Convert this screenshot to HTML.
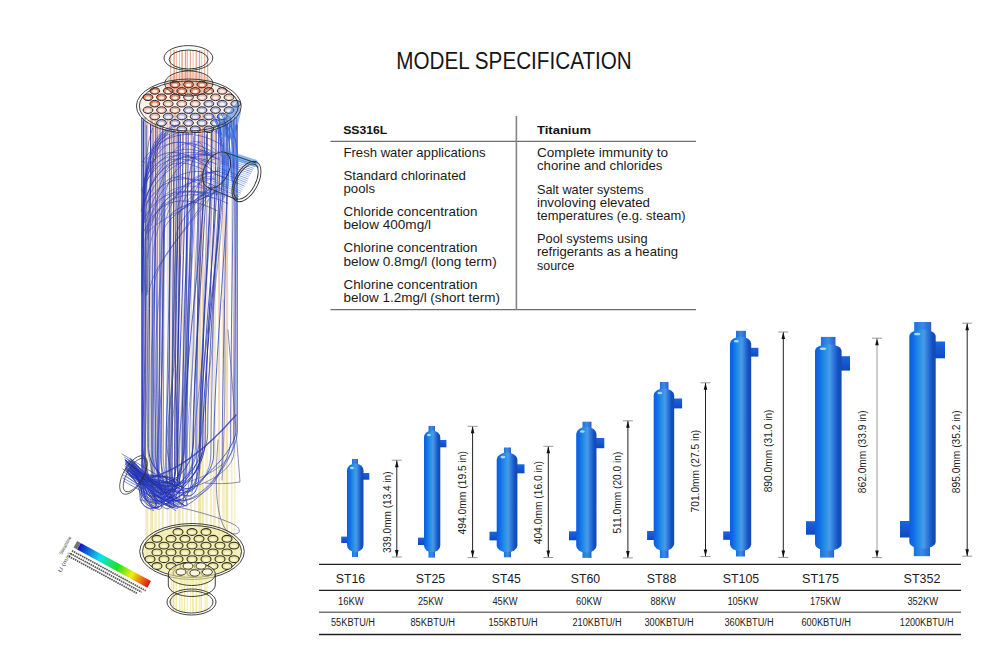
<!DOCTYPE html><html><head><meta charset="utf-8"><style>html,body{margin:0;padding:0;background:#fff;width:1000px;height:667px;overflow:hidden}svg{display:block}text{font-family:"Liberation Sans",sans-serif}</style></head><body>
<svg width="1000" height="667" viewBox="0 0 1000 667">
<defs>
<linearGradient id="gb" x1="0" x2="1" y1="0" y2="0">
<stop offset="0" stop-color="#0b5ee0"/><stop offset="0.12" stop-color="#0d68e6"/><stop offset="0.38" stop-color="#2590e6"/><stop offset="0.55" stop-color="#4a9ae8"/><stop offset="0.72" stop-color="#2b72d8"/><stop offset="0.88" stop-color="#1050c0"/><stop offset="1" stop-color="#1a48b0"/></linearGradient>
<linearGradient id="gn" x1="0" x2="1" y1="0" y2="0">
<stop offset="0" stop-color="#1a72e0"/><stop offset="0.5" stop-color="#3a8ae6"/><stop offset="1" stop-color="#2a62c8"/></linearGradient>
<linearGradient id="gs" x1="0" x2="0" y1="0" y2="1">
<stop offset="0" stop-color="#1a66dc"/><stop offset="1" stop-color="#1048c0"/></linearGradient>
<linearGradient id="leg" x1="0" x2="1" y1="0" y2="0">
<stop offset="0" stop-color="#1010c0"/><stop offset="0.3" stop-color="#10e0f0"/><stop offset="0.55" stop-color="#20e020"/><stop offset="0.75" stop-color="#f0f010"/><stop offset="1" stop-color="#e01010"/></linearGradient>
</defs>
<rect width="1000" height="667" fill="#fff"/>
<text x="396.3" y="69" font-size="23.6" font-weight="400" fill="#151515" text-anchor="start" textLength="235.5" lengthAdjust="spacingAndGlyphs" >MODEL SPECIFICATION</text>
<g stroke="#6e6e6e" stroke-width="1.2">
<line x1="330.5" y1="141.3" x2="696" y2="141.3"/>
<line x1="330.5" y1="309.6" x2="696" y2="309.6"/>
<line x1="516.4" y1="116" x2="516.4" y2="309.6" stroke="#858585" stroke-width="1.6"/>
</g>
<text x="343.2" y="133.6" font-size="11.5" font-weight="700" fill="#111" text-anchor="start" textLength="44" lengthAdjust="spacingAndGlyphs" >SS316L</text>
<text x="537" y="133.6" font-size="11.5" font-weight="700" fill="#111" text-anchor="start" textLength="54" lengthAdjust="spacingAndGlyphs" >Titanium</text>
<text x="343.5" y="157" font-size="13" font-weight="400" fill="#1a1a1a" text-anchor="start" textLength="142" lengthAdjust="spacingAndGlyphs" >Fresh water applications</text>
<text x="343.5" y="179.5" font-size="13" font-weight="400" fill="#1a1a1a" text-anchor="start" textLength="122.4" lengthAdjust="spacingAndGlyphs" >Standard chlorinated</text>
<text x="343.5" y="192.7" font-size="13" font-weight="400" fill="#1a1a1a" text-anchor="start" textLength="31.5" lengthAdjust="spacingAndGlyphs" >pools</text>
<text x="343.5" y="216" font-size="13" font-weight="400" fill="#1a1a1a" text-anchor="start" textLength="134" lengthAdjust="spacingAndGlyphs" >Chloride concentration</text>
<text x="343.5" y="229" font-size="13" font-weight="400" fill="#1a1a1a" text-anchor="start" textLength="87.5" lengthAdjust="spacingAndGlyphs" >below 400mg/l</text>
<text x="343.5" y="252" font-size="13" font-weight="400" fill="#1a1a1a" text-anchor="start" textLength="134" lengthAdjust="spacingAndGlyphs" >Chlorine concentration</text>
<text x="343.5" y="265.5" font-size="13" font-weight="400" fill="#1a1a1a" text-anchor="start" textLength="153.2" lengthAdjust="spacingAndGlyphs" >below 0.8mg/l (long term)</text>
<text x="343.5" y="288.5" font-size="13" font-weight="400" fill="#1a1a1a" text-anchor="start" textLength="134" lengthAdjust="spacingAndGlyphs" >Chlorine concentration</text>
<text x="343.5" y="301.5" font-size="13" font-weight="400" fill="#1a1a1a" text-anchor="start" textLength="156.5" lengthAdjust="spacingAndGlyphs" >below 1.2mg/l (short term)</text>
<text x="537" y="157" font-size="13" font-weight="400" fill="#1a1a1a" text-anchor="start" textLength="131" lengthAdjust="spacingAndGlyphs" >Complete immunity to</text>
<text x="537" y="170.3" font-size="13" font-weight="400" fill="#1a1a1a" text-anchor="start" textLength="125.4" lengthAdjust="spacingAndGlyphs" >chorine and chlorides</text>
<text x="537" y="193.5" font-size="13" font-weight="400" fill="#1a1a1a" text-anchor="start" textLength="106.6" lengthAdjust="spacingAndGlyphs" >Salt water systems</text>
<text x="537" y="206.5" font-size="13" font-weight="400" fill="#1a1a1a" text-anchor="start" textLength="113" lengthAdjust="spacingAndGlyphs" >involoving elevated</text>
<text x="537" y="220" font-size="13" font-weight="400" fill="#1a1a1a" text-anchor="start" textLength="148.6" lengthAdjust="spacingAndGlyphs" >temperatures (e.g. steam)</text>
<text x="537" y="243" font-size="13" font-weight="400" fill="#1a1a1a" text-anchor="start" textLength="110.6" lengthAdjust="spacingAndGlyphs" >Pool systems using</text>
<text x="537" y="256.3" font-size="13" font-weight="400" fill="#1a1a1a" text-anchor="start" textLength="141" lengthAdjust="spacingAndGlyphs" >refrigerants as a heating</text>
<text x="537" y="269.5" font-size="13" font-weight="400" fill="#1a1a1a" text-anchor="start" textLength="37.4" lengthAdjust="spacingAndGlyphs" >source</text>
<g stroke="#222" stroke-width="1.3">
<line x1="319" y1="564.3" x2="961" y2="564.3"/>
<line x1="319" y1="590.3" x2="961" y2="590.3"/>
<line x1="319" y1="634.5" x2="961" y2="634.5"/>
</g>
<line x1="319" y1="612.3" x2="961" y2="612.3" stroke="#777" stroke-width="1.6"/>
<text x="335.8" y="582.5" font-size="13.5" font-weight="400" fill="#1a1a1a" text-anchor="start" textLength="29.400000000000002" lengthAdjust="spacingAndGlyphs" >ST16</text>
<text x="338.0" y="605" font-size="10" font-weight="400" fill="#222" text-anchor="start" textLength="25.599999999999998" lengthAdjust="spacingAndGlyphs" >16KW</text>
<text x="331.0" y="626" font-size="10" font-weight="400" fill="#222" text-anchor="start" textLength="44.0" lengthAdjust="spacingAndGlyphs" >55KBTU/H</text>
<text x="415.8" y="582.5" font-size="13.5" font-weight="400" fill="#1a1a1a" text-anchor="start" textLength="29.400000000000002" lengthAdjust="spacingAndGlyphs" >ST25</text>
<text x="418.0" y="605" font-size="10" font-weight="400" fill="#222" text-anchor="start" textLength="25.0" lengthAdjust="spacingAndGlyphs" >25KW</text>
<text x="410.4" y="626" font-size="10" font-weight="400" fill="#222" text-anchor="start" textLength="44.6" lengthAdjust="spacingAndGlyphs" >85KBTU/H</text>
<text x="491.8" y="582.5" font-size="13.5" font-weight="400" fill="#1a1a1a" text-anchor="start" textLength="29.0" lengthAdjust="spacingAndGlyphs" >ST45</text>
<text x="492.4" y="605" font-size="10" font-weight="400" fill="#222" text-anchor="start" textLength="25.2" lengthAdjust="spacingAndGlyphs" >45KW</text>
<text x="488.4" y="626" font-size="10" font-weight="400" fill="#222" text-anchor="start" textLength="49.2" lengthAdjust="spacingAndGlyphs" >155KBTU/H</text>
<text x="570.8000000000001" y="582.5" font-size="13.5" font-weight="400" fill="#1a1a1a" text-anchor="start" textLength="29.400000000000002" lengthAdjust="spacingAndGlyphs" >ST60</text>
<text x="576.0" y="605" font-size="10" font-weight="400" fill="#222" text-anchor="start" textLength="25.599999999999998" lengthAdjust="spacingAndGlyphs" >60KW</text>
<text x="572.4" y="626" font-size="10" font-weight="400" fill="#222" text-anchor="start" textLength="49.2" lengthAdjust="spacingAndGlyphs" >210KBTU/H</text>
<text x="646.8000000000001" y="582.5" font-size="13.5" font-weight="400" fill="#1a1a1a" text-anchor="start" textLength="29.6" lengthAdjust="spacingAndGlyphs" >ST88</text>
<text x="650.4" y="605" font-size="10" font-weight="400" fill="#222" text-anchor="start" textLength="25.2" lengthAdjust="spacingAndGlyphs" >88KW</text>
<text x="644.4" y="626" font-size="10" font-weight="400" fill="#222" text-anchor="start" textLength="49.2" lengthAdjust="spacingAndGlyphs" >300KBTU/H</text>
<text x="722.8000000000001" y="582.5" font-size="13.5" font-weight="400" fill="#1a1a1a" text-anchor="start" textLength="36.4" lengthAdjust="spacingAndGlyphs" >ST105</text>
<text x="727.4" y="605" font-size="10" font-weight="400" fill="#222" text-anchor="start" textLength="30.8" lengthAdjust="spacingAndGlyphs" >105KW</text>
<text x="724.4" y="626" font-size="10" font-weight="400" fill="#222" text-anchor="start" textLength="49.2" lengthAdjust="spacingAndGlyphs" >360KBTU/H</text>
<text x="802.0" y="582.5" font-size="13.5" font-weight="400" fill="#1a1a1a" text-anchor="start" textLength="37.1" lengthAdjust="spacingAndGlyphs" >ST175</text>
<text x="809.9" y="605" font-size="10" font-weight="400" fill="#222" text-anchor="start" textLength="30.599999999999998" lengthAdjust="spacingAndGlyphs" >175KW</text>
<text x="801.4" y="626" font-size="10" font-weight="400" fill="#222" text-anchor="start" textLength="49.6" lengthAdjust="spacingAndGlyphs" >600KBTU/H</text>
<text x="903.6" y="582.5" font-size="13.5" font-weight="400" fill="#1a1a1a" text-anchor="start" textLength="36.800000000000004" lengthAdjust="spacingAndGlyphs" >ST352</text>
<text x="907.4" y="605" font-size="10" font-weight="400" fill="#222" text-anchor="start" textLength="30.8" lengthAdjust="spacingAndGlyphs" >352KW</text>
<text x="899.8" y="626" font-size="10" font-weight="400" fill="#222" text-anchor="start" textLength="53.800000000000004" lengthAdjust="spacingAndGlyphs" >1200KBTU/H</text>
<rect x="352" y="459" width="6" height="8.5" fill="url(#gn)"/>
<rect x="352" y="548" width="6" height="9" fill="url(#gn)"/>
<rect x="361.5" y="473" width="7.800000000000011" height="6.699999999999989" fill="url(#gs)"/>
<rect x="341.2" y="536.6" width="7.800000000000011" height="6.399999999999977" fill="url(#gs)"/>
<rect x="347" y="463.5" width="16.5" height="88.5" rx="8.25" ry="7" fill="url(#gb)"/>
<ellipse cx="351.95" cy="468.0" rx="1.98" ry="1.3" fill="#a8dcff"/>
<rect x="428.5" y="426" width="6.5" height="8.5" fill="url(#gn)"/>
<rect x="428.5" y="548.3" width="6.5" height="9.300000000000068" fill="url(#gn)"/>
<rect x="438.3" y="440" width="8.099999999999966" height="7.300000000000011" fill="url(#gs)"/>
<rect x="418" y="537.6" width="8" height="7.399999999999977" fill="url(#gs)"/>
<rect x="424" y="430.5" width="16.30000000000001" height="121.79999999999995" rx="8.150000000000006" ry="7" fill="url(#gb)"/>
<ellipse cx="428.89" cy="435.0" rx="1.9560000000000013" ry="1.3" fill="#a8dcff"/>
<rect x="503.9" y="447.5" width="7.100000000000023" height="9.100000000000023" fill="url(#gn)"/>
<rect x="503.9" y="548.4" width="7.100000000000023" height="8.899999999999977" fill="url(#gn)"/>
<rect x="515.4" y="464.3" width="9.100000000000023" height="9.0" fill="url(#gs)"/>
<rect x="489.5" y="531.7" width="9.199999999999989" height="8.699999999999932" fill="url(#gs)"/>
<rect x="496.7" y="452.6" width="20.69999999999999" height="99.79999999999995" rx="10.349999999999994" ry="7" fill="url(#gb)"/>
<ellipse cx="502.90999999999997" cy="457.1" rx="2.4839999999999987" ry="1.3" fill="#a8dcff"/>
<rect x="582.5" y="421.7" width="9.0" height="9.300000000000011" fill="url(#gn)"/>
<rect x="582.5" y="548.7" width="9.0" height="9.199999999999932" fill="url(#gn)"/>
<rect x="594.5" y="438" width="9.799999999999955" height="10.199999999999989" fill="url(#gs)"/>
<rect x="569" y="531.3" width="9.200000000000045" height="9.0" fill="url(#gs)"/>
<rect x="576.2" y="427" width="20.299999999999955" height="125.70000000000005" rx="10.149999999999977" ry="7" fill="url(#gb)"/>
<ellipse cx="582.2900000000001" cy="431.5" rx="2.4359999999999946" ry="1.3" fill="#a8dcff"/>
<rect x="659.9" y="382" width="8.600000000000023" height="10.5" fill="url(#gn)"/>
<rect x="659.9" y="546.8" width="8.600000000000023" height="11.200000000000045" fill="url(#gn)"/>
<rect x="672.2" y="398.5" width="9.899999999999977" height="9.899999999999977" fill="url(#gs)"/>
<rect x="647.1" y="531" width="8.600000000000023" height="9" fill="url(#gs)"/>
<rect x="653.7" y="388.5" width="20.5" height="162.29999999999995" rx="10.25" ry="7" fill="url(#gb)"/>
<ellipse cx="659.85" cy="393.0" rx="2.46" ry="1.3" fill="#a8dcff"/>
<rect x="736" y="330.8" width="9.899999999999977" height="10.0" fill="url(#gn)"/>
<rect x="736" y="547.2" width="9" height="9.299999999999955" fill="url(#gn)"/>
<rect x="749.2" y="347.8" width="9.199999999999932" height="8.800000000000011" fill="url(#gs)"/>
<rect x="723.2" y="531.4" width="8.799999999999955" height="8.399999999999977" fill="url(#gs)"/>
<rect x="730" y="336.8" width="21.200000000000045" height="214.40000000000003" rx="10.600000000000023" ry="7" fill="url(#gb)"/>
<ellipse cx="736.36" cy="341.3" rx="2.5440000000000054" ry="1.3" fill="#a8dcff"/>
<rect x="820.9" y="336.9" width="14.600000000000023" height="11.400000000000034" fill="url(#gn)"/>
<rect x="820" y="546.8" width="14.100000000000023" height="10.800000000000068" fill="url(#gn)"/>
<rect x="839.6" y="356.2" width="10.399999999999977" height="14.400000000000034" fill="url(#gs)"/>
<rect x="806" y="521.2" width="11" height="13.5" fill="url(#gs)"/>
<rect x="815" y="344.3" width="26.600000000000023" height="206.49999999999994" rx="13.300000000000011" ry="7" fill="url(#gb)"/>
<ellipse cx="822.98" cy="348.8" rx="3.1920000000000024" ry="1.3" fill="#a8dcff"/>
<rect x="914.2" y="322" width="17.0" height="11.5" fill="url(#gn)"/>
<rect x="913.8" y="544.7" width="16.200000000000045" height="11.5" fill="url(#gn)"/>
<rect x="933.7" y="341.5" width="11.299999999999955" height="16.80000000000001" fill="url(#gs)"/>
<rect x="900" y="521" width="11.299999999999955" height="16.5" fill="url(#gs)"/>
<rect x="909.3" y="329.5" width="26.40000000000009" height="219.20000000000005" rx="13.200000000000045" ry="7" fill="url(#gb)"/>
<ellipse cx="917.22" cy="334.0" rx="3.168000000000011" ry="1.3" fill="#a8dcff"/>
<g stroke="#222" stroke-width="1"><line x1="396.8" y1="460.2" x2="396.8" y2="557"/><line x1="391.8" y1="460.2" x2="401.8" y2="460.2" stroke="#999"/><line x1="391.8" y1="557" x2="401.8" y2="557" stroke="#999"/></g>
<path d="M396.8 460.2 l-1.8 7 h3.6z M396.8 557 l-1.8 -7 h3.6z" fill="#111"/>
<text transform="translate(391.3,553) rotate(-90)" font-size="10" fill="#222" textLength="81.5" lengthAdjust="spacingAndGlyphs">339.0mm (13.4 in)</text>
<g stroke="#222" stroke-width="1"><line x1="472.6" y1="426.3" x2="472.6" y2="557.6"/><line x1="467.6" y1="426.3" x2="477.6" y2="426.3" stroke="#999"/><line x1="467.6" y1="557.6" x2="477.6" y2="557.6" stroke="#999"/></g>
<path d="M472.6 426.3 l-1.8 7 h3.6z M472.6 557.6 l-1.8 -7 h3.6z" fill="#111"/>
<text transform="translate(465.6,534.5) rotate(-90)" font-size="10" fill="#222" textLength="83.5" lengthAdjust="spacingAndGlyphs">494.0mm (19.5 in)</text>
<g stroke="#222" stroke-width="1"><line x1="548.3" y1="446.3" x2="548.3" y2="557.5"/><line x1="543.3" y1="446.3" x2="553.3" y2="446.3" stroke="#999"/><line x1="543.3" y1="557.5" x2="553.3" y2="557.5" stroke="#999"/></g>
<path d="M548.3 446.3 l-1.8 7 h3.6z M548.3 557.5 l-1.8 -7 h3.6z" fill="#111"/>
<text transform="translate(542.2,544.3) rotate(-90)" font-size="10" fill="#222" textLength="83.29999999999995" lengthAdjust="spacingAndGlyphs">404.0mm (16.0 in)</text>
<g stroke="#222" stroke-width="1"><line x1="627.9" y1="420.8" x2="627.9" y2="557.9"/><line x1="622.9" y1="420.8" x2="632.9" y2="420.8" stroke="#999"/><line x1="622.9" y1="557.9" x2="632.9" y2="557.9" stroke="#999"/></g>
<path d="M627.9 420.8 l-1.8 7 h3.6z M627.9 557.9 l-1.8 -7 h3.6z" fill="#111"/>
<text transform="translate(620.7,533.6) rotate(-90)" font-size="10" fill="#222" textLength="82.0" lengthAdjust="spacingAndGlyphs">511.0mm (20.0 in)</text>
<g stroke="#222" stroke-width="1"><line x1="705.5" y1="382.8" x2="705.5" y2="556.6"/><line x1="700.5" y1="382.8" x2="710.5" y2="382.8" stroke="#999"/><line x1="700.5" y1="556.6" x2="710.5" y2="556.6" stroke="#999"/></g>
<path d="M705.5 382.8 l-1.8 7 h3.6z M705.5 556.6 l-1.8 -7 h3.6z" fill="#111"/>
<text transform="translate(698.6,512.4) rotate(-90)" font-size="10" fill="#222" textLength="82.59999999999997" lengthAdjust="spacingAndGlyphs">701.0mm (27.5 in)</text>
<g stroke="#222" stroke-width="1"><line x1="783.3" y1="332" x2="783.3" y2="557.4"/><line x1="778.3" y1="332" x2="788.3" y2="332" stroke="#999"/><line x1="778.3" y1="557.4" x2="788.3" y2="557.4" stroke="#999"/></g>
<path d="M783.3 332 l-1.8 7 h3.6z M783.3 557.4 l-1.8 -7 h3.6z" fill="#111"/>
<text transform="translate(771.6,492.3) rotate(-90)" font-size="10" fill="#222" textLength="82.80000000000001" lengthAdjust="spacingAndGlyphs">890.0mm (31.0 in)</text>
<g stroke="#9a9a9a" stroke-width="1"><line x1="877" y1="338.2" x2="877" y2="557.6"/><line x1="872" y1="338.2" x2="882" y2="338.2" stroke="#999"/><line x1="872" y1="557.6" x2="882" y2="557.6" stroke="#999"/></g>
<path d="M877 338.2 l-1.8 7 h3.6z M877 557.6 l-1.8 -7 h3.6z" fill="#111"/>
<text transform="translate(865.6,493.2) rotate(-90)" font-size="10" fill="#222" textLength="82.80000000000001" lengthAdjust="spacingAndGlyphs">862.0mm (33.9 in)</text>
<g stroke="#222" stroke-width="1"><line x1="967.2" y1="323.2" x2="967.2" y2="556.2"/><line x1="962.2" y1="323.2" x2="972.2" y2="323.2" stroke="#999"/><line x1="962.2" y1="556.2" x2="972.2" y2="556.2" stroke="#999"/></g>
<path d="M967.2 323.2 l-1.8 7 h3.6z M967.2 556.2 l-1.8 -7 h3.6z" fill="#111"/>
<text transform="translate(959.6,493.2) rotate(-90)" font-size="10" fill="#222" textLength="82.80000000000001" lengthAdjust="spacingAndGlyphs">895.0mm (35.2 in)</text>
<defs><linearGradient id="tube" gradientUnits="userSpaceOnUse" x1="0" y1="60" x2="0" y2="610">
<stop offset="0" stop-color="#e07850"/><stop offset="0.1" stop-color="#e8a088"/><stop offset="0.2" stop-color="#e8bca8"/><stop offset="0.5" stop-color="#ead4b4"/><stop offset="0.7" stop-color="#f0e0a8"/><stop offset="1" stop-color="#efe498"/></linearGradient>
</defs>
<g fill="none">
<line x1="146.9" y1="121.2" x2="146.9" y2="560" stroke="url(#tube)" stroke-width="3.0" opacity="0.73"/>
<line x1="151.6" y1="113.8" x2="151.6" y2="560" stroke="url(#tube)" stroke-width="3.0" opacity="0.80"/>
<line x1="155.5" y1="111.9" x2="155.5" y2="560" stroke="url(#tube)" stroke-width="2.5" opacity="0.61"/>
<line x1="159.1" y1="127.8" x2="159.1" y2="560" stroke="url(#tube)" stroke-width="1.5" opacity="0.79"/>
<line x1="162.8" y1="119.1" x2="162.8" y2="560" stroke="url(#tube)" stroke-width="2.0" opacity="0.80"/>
<line x1="167.5" y1="111.3" x2="167.5" y2="560" stroke="url(#tube)" stroke-width="1.5" opacity="0.63"/>
<line x1="170.6" y1="110.6" x2="170.6" y2="560" stroke="url(#tube)" stroke-width="3.0" opacity="0.68"/>
<line x1="175.1" y1="113.9" x2="175.1" y2="560" stroke="url(#tube)" stroke-width="2.0" opacity="0.81"/>
<line x1="179.0" y1="123.2" x2="179.0" y2="560" stroke="url(#tube)" stroke-width="3.0" opacity="0.81"/>
<line x1="182.9" y1="121.0" x2="182.9" y2="560" stroke="url(#tube)" stroke-width="1.5" opacity="0.83"/>
<line x1="186.7" y1="114.6" x2="186.7" y2="560" stroke="url(#tube)" stroke-width="2.5" opacity="0.56"/>
<line x1="191.1" y1="112.2" x2="191.1" y2="560" stroke="url(#tube)" stroke-width="1.5" opacity="0.89"/>
<line x1="194.8" y1="129.2" x2="194.8" y2="560" stroke="url(#tube)" stroke-width="1.5" opacity="0.64"/>
<line x1="199.7" y1="111.0" x2="199.7" y2="560" stroke="url(#tube)" stroke-width="3.0" opacity="0.94"/>
<line x1="202.8" y1="111.5" x2="202.8" y2="560" stroke="url(#tube)" stroke-width="2.0" opacity="0.86"/>
<line x1="206.6" y1="111.7" x2="206.6" y2="560" stroke="url(#tube)" stroke-width="2.5" opacity="0.56"/>
<line x1="210.9" y1="128.5" x2="210.9" y2="560" stroke="url(#tube)" stroke-width="2.0" opacity="0.65"/>
<line x1="214.4" y1="111.2" x2="214.4" y2="560" stroke="url(#tube)" stroke-width="3.0" opacity="0.62"/>
<line x1="219.1" y1="118.9" x2="219.1" y2="560" stroke="url(#tube)" stroke-width="2.0" opacity="0.94"/>
<line x1="223.4" y1="118.4" x2="223.4" y2="560" stroke="url(#tube)" stroke-width="3.0" opacity="0.60"/>
<line x1="226.9" y1="114.3" x2="226.9" y2="560" stroke="url(#tube)" stroke-width="2.5" opacity="0.90"/>
<line x1="231.8" y1="121.9" x2="231.8" y2="560" stroke="url(#tube)" stroke-width="1.5" opacity="0.63"/>
<line x1="234.8" y1="127.1" x2="234.8" y2="560" stroke="url(#tube)" stroke-width="1.5" opacity="0.57"/>
<line x1="170.6" y1="50" x2="170.6" y2="96" stroke="#e08868" stroke-width="1.3" opacity="0.60"/>
<line x1="174.1" y1="50" x2="174.1" y2="96" stroke="#e08868" stroke-width="1.3" opacity="0.83"/>
<line x1="176.5" y1="50" x2="176.5" y2="96" stroke="#e08868" stroke-width="1" opacity="0.54"/>
<line x1="179.5" y1="50" x2="179.5" y2="96" stroke="#e08868" stroke-width="1" opacity="0.51"/>
<line x1="182.1" y1="50" x2="182.1" y2="96" stroke="#e08868" stroke-width="1.7" opacity="0.68"/>
<line x1="185.5" y1="50" x2="185.5" y2="96" stroke="#e08868" stroke-width="1.3" opacity="0.83"/>
<line x1="187.4" y1="50" x2="187.4" y2="96" stroke="#e08868" stroke-width="1.3" opacity="0.57"/>
<line x1="190.3" y1="50" x2="190.3" y2="96" stroke="#e08868" stroke-width="1" opacity="0.83"/>
<line x1="193.1" y1="50" x2="193.1" y2="96" stroke="#e08868" stroke-width="1" opacity="0.56"/>
<line x1="196.3" y1="50" x2="196.3" y2="96" stroke="#e08868" stroke-width="1.7" opacity="0.58"/>
<line x1="199.5" y1="50" x2="199.5" y2="96" stroke="#e08868" stroke-width="1.3" opacity="0.74"/>
<line x1="201.7" y1="50" x2="201.7" y2="96" stroke="#e08868" stroke-width="1" opacity="0.54"/>
<line x1="204.6" y1="50" x2="204.6" y2="96" stroke="#e08868" stroke-width="1.3" opacity="0.60"/>
<line x1="207.6" y1="50" x2="207.6" y2="96" stroke="#e08868" stroke-width="1.3" opacity="0.67"/>
<line x1="171.4" y1="572" x2="171.4" y2="612" stroke="#ece070" stroke-width="1.3" opacity="0.62"/>
<line x1="173.5" y1="572" x2="173.5" y2="612" stroke="#ece070" stroke-width="1.7" opacity="0.89"/>
<line x1="176.2" y1="572" x2="176.2" y2="612" stroke="#ece070" stroke-width="1.3" opacity="0.72"/>
<line x1="179.8" y1="572" x2="179.8" y2="612" stroke="#ece070" stroke-width="1.7" opacity="0.53"/>
<line x1="181.9" y1="572" x2="181.9" y2="612" stroke="#ece070" stroke-width="1" opacity="0.80"/>
<line x1="184.6" y1="572" x2="184.6" y2="612" stroke="#ece070" stroke-width="1.3" opacity="0.68"/>
<line x1="187.4" y1="572" x2="187.4" y2="612" stroke="#ece070" stroke-width="1" opacity="0.61"/>
<line x1="190.6" y1="572" x2="190.6" y2="612" stroke="#ece070" stroke-width="1" opacity="0.54"/>
<line x1="193.0" y1="572" x2="193.0" y2="612" stroke="#ece070" stroke-width="1.3" opacity="0.89"/>
<line x1="196.4" y1="572" x2="196.4" y2="612" stroke="#ece070" stroke-width="1.7" opacity="0.71"/>
<line x1="199.4" y1="572" x2="199.4" y2="612" stroke="#ece070" stroke-width="1.7" opacity="0.51"/>
<line x1="201.3" y1="572" x2="201.3" y2="612" stroke="#ece070" stroke-width="1.3" opacity="0.78"/>
<line x1="205.1" y1="572" x2="205.1" y2="612" stroke="#ece070" stroke-width="1" opacity="0.74"/>
<line x1="207.0" y1="572" x2="207.0" y2="612" stroke="#ece070" stroke-width="1" opacity="0.79"/>
</g>
<ellipse cx="189" cy="106" rx="50" ry="24" fill="#f0c0a8" opacity="0.25"/>
<ellipse cx="189" cy="84" rx="23" ry="12" fill="#e89070" opacity="0.4"/>
<ellipse cx="192" cy="551.5" rx="50" ry="26" fill="#f2eca8" opacity="0.75"/>
<ellipse cx="175.0" cy="84.5" rx="4.9" ry="3.3" fill="#e88660" stroke="#2e2424" stroke-width="1.0"/>
<ellipse cx="175.0" cy="85.0" rx="2.7" ry="1.6" fill="#f8f0ec"/>
<ellipse cx="188.5" cy="84.5" rx="4.9" ry="3.3" fill="#e88660" stroke="#2e2424" stroke-width="1.0"/>
<ellipse cx="188.5" cy="85.0" rx="2.7" ry="1.6" fill="#f8f0ec"/>
<ellipse cx="202.0" cy="84.5" rx="4.9" ry="3.3" fill="#e88660" stroke="#2e2424" stroke-width="1.0"/>
<ellipse cx="202.0" cy="85.0" rx="2.7" ry="1.6" fill="#f8f0ec"/>
<ellipse cx="154.8" cy="90.9" rx="4.9" ry="3.3" fill="#e88660" stroke="#2e2424" stroke-width="1.0"/>
<ellipse cx="154.8" cy="91.4" rx="2.7" ry="1.6" fill="#f8f0ec"/>
<ellipse cx="168.2" cy="90.9" rx="4.9" ry="3.3" fill="#e88660" stroke="#2e2424" stroke-width="1.0"/>
<ellipse cx="168.2" cy="91.4" rx="2.7" ry="1.6" fill="#f8f0ec"/>
<ellipse cx="181.8" cy="90.9" rx="4.9" ry="3.3" fill="#e88660" stroke="#2e2424" stroke-width="1.0"/>
<ellipse cx="181.8" cy="91.4" rx="2.7" ry="1.6" fill="#f8f0ec"/>
<ellipse cx="195.2" cy="90.9" rx="4.9" ry="3.3" fill="#e88660" stroke="#2e2424" stroke-width="1.0"/>
<ellipse cx="195.2" cy="91.4" rx="2.7" ry="1.6" fill="#f8f0ec"/>
<ellipse cx="208.8" cy="90.9" rx="4.9" ry="3.3" fill="#e88660" stroke="#2e2424" stroke-width="1.0"/>
<ellipse cx="208.8" cy="91.4" rx="2.7" ry="1.6" fill="#f8f0ec"/>
<ellipse cx="222.2" cy="90.9" rx="4.9" ry="3.3" fill="#e8c0b0" stroke="#2e2424" stroke-width="1.0"/>
<ellipse cx="222.2" cy="91.4" rx="2.7" ry="1.6" fill="#f8f0ec"/>
<ellipse cx="148.0" cy="97.3" rx="4.9" ry="3.3" fill="#e88660" stroke="#2e2424" stroke-width="1.0"/>
<ellipse cx="148.0" cy="97.8" rx="2.7" ry="1.6" fill="#f8f0ec"/>
<ellipse cx="161.5" cy="97.3" rx="4.9" ry="3.3" fill="#e88660" stroke="#2e2424" stroke-width="1.0"/>
<ellipse cx="161.5" cy="97.8" rx="2.7" ry="1.6" fill="#f8f0ec"/>
<ellipse cx="175.0" cy="97.3" rx="4.9" ry="3.3" fill="#e88660" stroke="#2e2424" stroke-width="1.0"/>
<ellipse cx="175.0" cy="97.8" rx="2.7" ry="1.6" fill="#f8f0ec"/>
<ellipse cx="188.5" cy="97.3" rx="4.9" ry="3.3" fill="#e8c0b0" stroke="#2e2424" stroke-width="1.0"/>
<ellipse cx="188.5" cy="97.8" rx="2.7" ry="1.6" fill="#f8f0ec"/>
<ellipse cx="202.0" cy="97.3" rx="4.9" ry="3.3" fill="#e8c0b0" stroke="#2e2424" stroke-width="1.0"/>
<ellipse cx="202.0" cy="97.8" rx="2.7" ry="1.6" fill="#f8f0ec"/>
<ellipse cx="215.5" cy="97.3" rx="4.9" ry="3.3" fill="#e8c0b0" stroke="#2e2424" stroke-width="1.0"/>
<ellipse cx="215.5" cy="97.8" rx="2.7" ry="1.6" fill="#f8f0ec"/>
<ellipse cx="229.0" cy="97.3" rx="4.9" ry="3.3" fill="#e8c0b0" stroke="#2e2424" stroke-width="1.0"/>
<ellipse cx="229.0" cy="97.8" rx="2.7" ry="1.6" fill="#f8f0ec"/>
<ellipse cx="154.8" cy="103.7" rx="4.9" ry="3.3" fill="#e88660" stroke="#2e2424" stroke-width="1.0"/>
<ellipse cx="154.8" cy="104.2" rx="2.7" ry="1.6" fill="#f8f0ec"/>
<ellipse cx="168.2" cy="103.7" rx="4.9" ry="3.3" fill="#e8c0b0" stroke="#2e2424" stroke-width="1.0"/>
<ellipse cx="168.2" cy="104.2" rx="2.7" ry="1.6" fill="#f8f0ec"/>
<ellipse cx="181.8" cy="103.7" rx="4.9" ry="3.3" fill="#e8c0b0" stroke="#2e2424" stroke-width="1.0"/>
<ellipse cx="181.8" cy="104.2" rx="2.7" ry="1.6" fill="#f8f0ec"/>
<ellipse cx="195.2" cy="103.7" rx="4.9" ry="3.3" fill="#e8c0b0" stroke="#2e2424" stroke-width="1.0"/>
<ellipse cx="195.2" cy="104.2" rx="2.7" ry="1.6" fill="#f8f0ec"/>
<ellipse cx="208.8" cy="103.7" rx="4.9" ry="3.3" fill="#b0bce8" stroke="#2e2424" stroke-width="1.0"/>
<ellipse cx="208.8" cy="104.2" rx="2.7" ry="1.6" fill="#f8f0ec"/>
<ellipse cx="222.2" cy="103.7" rx="4.9" ry="3.3" fill="#b0bce8" stroke="#2e2424" stroke-width="1.0"/>
<ellipse cx="222.2" cy="104.2" rx="2.7" ry="1.6" fill="#f8f0ec"/>
<ellipse cx="235.8" cy="103.7" rx="4.9" ry="3.3" fill="#b0bce8" stroke="#2e2424" stroke-width="1.0"/>
<ellipse cx="235.8" cy="104.2" rx="2.7" ry="1.6" fill="#f8f0ec"/>
<ellipse cx="148.0" cy="110.1" rx="4.9" ry="3.3" fill="#e8c0b0" stroke="#2e2424" stroke-width="1.0"/>
<ellipse cx="148.0" cy="110.6" rx="2.7" ry="1.6" fill="#f8f0ec"/>
<ellipse cx="161.5" cy="110.1" rx="4.9" ry="3.3" fill="#e8c0b0" stroke="#2e2424" stroke-width="1.0"/>
<ellipse cx="161.5" cy="110.6" rx="2.7" ry="1.6" fill="#f8f0ec"/>
<ellipse cx="175.0" cy="110.1" rx="4.9" ry="3.3" fill="#e8c0b0" stroke="#2e2424" stroke-width="1.0"/>
<ellipse cx="175.0" cy="110.6" rx="2.7" ry="1.6" fill="#f8f0ec"/>
<ellipse cx="188.5" cy="110.1" rx="4.9" ry="3.3" fill="#b0bce8" stroke="#2e2424" stroke-width="1.0"/>
<ellipse cx="188.5" cy="110.6" rx="2.7" ry="1.6" fill="#f8f0ec"/>
<ellipse cx="202.0" cy="110.1" rx="4.9" ry="3.3" fill="#b0bce8" stroke="#2e2424" stroke-width="1.0"/>
<ellipse cx="202.0" cy="110.6" rx="2.7" ry="1.6" fill="#f8f0ec"/>
<ellipse cx="215.5" cy="110.1" rx="4.9" ry="3.3" fill="#b0bce8" stroke="#2e2424" stroke-width="1.0"/>
<ellipse cx="215.5" cy="110.6" rx="2.7" ry="1.6" fill="#f8f0ec"/>
<ellipse cx="229.0" cy="110.1" rx="4.9" ry="3.3" fill="#b0bce8" stroke="#2e2424" stroke-width="1.0"/>
<ellipse cx="229.0" cy="110.6" rx="2.7" ry="1.6" fill="#f8f0ec"/>
<ellipse cx="154.8" cy="116.5" rx="4.9" ry="3.3" fill="#e8c0b0" stroke="#2e2424" stroke-width="1.0"/>
<ellipse cx="154.8" cy="117.0" rx="2.7" ry="1.6" fill="#f8f0ec"/>
<ellipse cx="168.2" cy="116.5" rx="4.9" ry="3.3" fill="#b0bce8" stroke="#2e2424" stroke-width="1.0"/>
<ellipse cx="168.2" cy="117.0" rx="2.7" ry="1.6" fill="#f8f0ec"/>
<ellipse cx="181.8" cy="116.5" rx="4.9" ry="3.3" fill="#b0bce8" stroke="#2e2424" stroke-width="1.0"/>
<ellipse cx="181.8" cy="117.0" rx="2.7" ry="1.6" fill="#f8f0ec"/>
<ellipse cx="195.2" cy="116.5" rx="4.9" ry="3.3" fill="#b0bce8" stroke="#2e2424" stroke-width="1.0"/>
<ellipse cx="195.2" cy="117.0" rx="2.7" ry="1.6" fill="#f8f0ec"/>
<ellipse cx="208.8" cy="116.5" rx="4.9" ry="3.3" fill="#b0bce8" stroke="#2e2424" stroke-width="1.0"/>
<ellipse cx="208.8" cy="117.0" rx="2.7" ry="1.6" fill="#f8f0ec"/>
<ellipse cx="222.2" cy="116.5" rx="4.9" ry="3.3" fill="#b0bce8" stroke="#2e2424" stroke-width="1.0"/>
<ellipse cx="222.2" cy="117.0" rx="2.7" ry="1.6" fill="#f8f0ec"/>
<ellipse cx="161.5" cy="122.9" rx="4.9" ry="3.3" fill="#b0bce8" stroke="#2e2424" stroke-width="1.0"/>
<ellipse cx="161.5" cy="123.4" rx="2.7" ry="1.6" fill="#f8f0ec"/>
<ellipse cx="175.0" cy="122.9" rx="4.9" ry="3.3" fill="#b0bce8" stroke="#2e2424" stroke-width="1.0"/>
<ellipse cx="175.0" cy="123.4" rx="2.7" ry="1.6" fill="#f8f0ec"/>
<ellipse cx="188.5" cy="122.9" rx="4.9" ry="3.3" fill="#b0bce8" stroke="#2e2424" stroke-width="1.0"/>
<ellipse cx="188.5" cy="123.4" rx="2.7" ry="1.6" fill="#f8f0ec"/>
<ellipse cx="202.0" cy="122.9" rx="4.9" ry="3.3" fill="#b0bce8" stroke="#2e2424" stroke-width="1.0"/>
<ellipse cx="202.0" cy="123.4" rx="2.7" ry="1.6" fill="#f8f0ec"/>
<ellipse cx="215.5" cy="122.9" rx="4.9" ry="3.3" fill="#b0bce8" stroke="#2e2424" stroke-width="1.0"/>
<ellipse cx="215.5" cy="123.4" rx="2.7" ry="1.6" fill="#f8f0ec"/>
<ellipse cx="181.8" cy="129.3" rx="4.9" ry="3.3" fill="#b0bce8" stroke="#2e2424" stroke-width="1.0"/>
<ellipse cx="181.8" cy="129.8" rx="2.7" ry="1.6" fill="#f8f0ec"/>
<ellipse cx="195.2" cy="129.3" rx="4.9" ry="3.3" fill="#b0bce8" stroke="#2e2424" stroke-width="1.0"/>
<ellipse cx="195.2" cy="129.8" rx="2.7" ry="1.6" fill="#f8f0ec"/>
<ellipse cx="208.8" cy="129.3" rx="4.9" ry="3.3" fill="#b0bce8" stroke="#2e2424" stroke-width="1.0"/>
<ellipse cx="208.8" cy="129.8" rx="2.7" ry="1.6" fill="#f8f0ec"/>
<path d="M214 132 C222 120 232 110 238 100 L241 112 C238 125 236 135 232 140 Z" fill="#3a80e0" opacity="0.55"/>
<g fill="none" stroke-linecap="round">
<path d="M220.9 187.6 C183.0 211.2 145.0 224.4 145.0 240.1 C145.0 280.1 146.0 305.8 146.0 345.8 C146.0 385.8 144.7 411.5 144.7 451.5 C144.7 481.5 168.6 515.1 153.6 507.1 S145.6 479.5 125.6 461.5" stroke="#2c44d0" stroke-width="0.7" opacity="0.73"/>
<path d="M210.7 191.4 C179.6 240.3 148.4 267.4 148.4 300.0 C148.4 340.0 147.8 331.3 147.8 371.3 C147.8 411.3 147.5 402.5 147.5 442.5 C147.5 472.5 168.6 505.6 153.6 497.6 S150.0 481.9 130.0 463.9" stroke="#404c9c" stroke-width="0.6" opacity="0.96"/>
<path d="M219.0 184.7 C186.2 232.8 153.5 259.6 153.5 291.6 C153.5 331.6 151.0 343.2 151.0 383.2 C151.0 423.2 151.9 434.9 151.9 474.9 C151.9 504.9 164.4 509.9 149.4 501.9 S148.0 482.5 128.0 464.5" stroke="#2434b0" stroke-width="0.6" opacity="0.78"/>
<path d="M214.0 185.3 C188.8 206.7 163.6 218.5 163.6 232.7 C163.6 272.7 162.6 312.9 162.6 352.9 C162.6 392.9 156.9 433.1 156.9 473.1 C156.9 503.1 181.5 491.0 166.5 483.0 S151.8 485.2 131.8 467.2" stroke="#1828a8" stroke-width="0.5" opacity="0.96"/>
<path d="M215.4 192.5 C193.1 203.2 170.7 209.1 170.7 216.2 C170.7 256.2 169.4 298.8 169.4 338.8 C169.4 378.8 165.6 421.4 165.6 461.4 C165.6 491.4 176.9 510.5 161.9 502.5 S150.4 487.0 130.4 469.0" stroke="#1828a8" stroke-width="0.7" opacity="0.88"/>
<path d="M210.0 184.1 C192.9 209.0 175.8 222.8 175.8 239.4 C175.8 279.4 173.4 308.6 173.4 348.6 C173.4 388.6 166.5 417.9 166.5 457.9 C166.5 487.9 166.0 514.7 151.0 506.7 S152.1 482.1 132.1 464.1" stroke="#2c3490" stroke-width="0.7" opacity="0.72"/>
<path d="M217.6 186.2 C197.5 200.1 177.3 207.9 177.3 217.2 C177.3 257.2 175.5 290.4 175.5 330.4 C175.5 370.4 168.4 403.6 168.4 443.6 C168.4 473.6 170.0 492.1 155.0 484.1 S145.9 493.7 125.9 475.7" stroke="#404c9c" stroke-width="0.7" opacity="0.97"/>
<path d="M209.3 189.8 C198.8 194.4 188.3 196.9 188.3 199.9 C188.3 239.9 183.6 297.1 183.6 337.1 C183.6 377.1 179.3 434.3 179.3 474.3 C179.3 504.3 181.5 510.1 166.5 502.1 S146.9 480.9 126.9 462.9" stroke="#3450d0" stroke-width="0.5" opacity="0.90"/>
<path d="M215.5 186.0 C205.1 193.3 194.6 197.4 194.6 202.3 C194.6 242.3 188.6 299.0 188.6 339.0 C188.6 379.0 183.7 435.8 183.7 475.8 C183.7 505.8 163.0 492.6 148.0 484.6 S145.5 478.7 125.5 460.7" stroke="#404c9c" stroke-width="0.7" opacity="0.74"/>
<path d="M213.2 187.4 C206.1 196.6 199.0 201.8 199.0 208.0 C199.0 248.0 194.0 291.3 194.0 331.3 C194.0 371.3 187.0 414.6 187.0 454.6 C187.0 484.6 180.8 489.8 165.8 481.8 S149.4 481.7 129.4 463.7" stroke="#3450d0" stroke-width="0.5" opacity="0.90"/>
<path d="M220.3 184.4 C213.6 194.5 206.8 200.1 206.8 206.8 C206.8 246.8 203.5 286.4 203.5 326.4 C203.5 366.4 202.0 406.0 202.0 446.0 C202.0 476.0 192.6 499.2 177.6 491.2 S145.4 485.9 125.4 467.9" stroke="#2434b0" stroke-width="0.5" opacity="0.76"/>
<path d="M221.6 189.4 C216.8 191.6 212.0 192.8 212.0 194.2 C212.0 234.2 203.8 290.5 203.8 330.5 C203.8 370.5 192.3 426.7 192.3 466.7 C192.3 496.7 195.4 500.6 180.4 492.6 S151.4 487.4 131.4 469.4" stroke="#1c2cc0" stroke-width="0.6" opacity="0.71"/>
<path d="M216.9 190.3 C217.9 198.4 218.9 202.9 218.9 208.3 C218.9 248.3 212.8 290.6 212.8 330.6 C212.8 370.6 210.9 412.9 210.9 452.9 C210.9 482.9 186.7 498.5 171.7 490.5 S147.1 480.3 127.1 462.3" stroke="#2434b0" stroke-width="0.7" opacity="0.77"/>
<path d="M221.7 190.8 C222.3 193.7 222.9 195.3 222.9 197.2 C222.9 237.2 213.1 286.2 213.1 326.2 C213.1 366.2 200.4 415.2 200.4 455.2 C200.4 485.2 167.9 490.1 152.9 482.1 S152.9 492.1 132.9 474.1" stroke="#404c9c" stroke-width="0.5" opacity="0.98"/>
<path d="M214.4 172.2 C178.7 140.7 142.9 145.7 142.9 196.1 C142.9 236.1 145.2 287.1 145.2 327.1 C145.2 367.1 142.7 418.1 142.7 458.1 C142.7 488.1 172.7 493.1 157.7 485.1 S150.0 489.6 130.0 471.6" stroke="#202c94" stroke-width="0.7" opacity="0.89"/>
<path d="M211.9 155.8 C183.6 150.9 155.4 155.9 155.4 225.4 C155.4 265.4 153.9 297.7 153.9 337.7 C153.9 377.7 155.2 409.9 155.2 449.9 C155.2 479.9 178.0 511.9 163.0 503.9 S147.2 476.8 127.2 458.8" stroke="#2c44d0" stroke-width="0.6" opacity="0.97"/>
<path d="M212.8 153.3 C187.8 134.5 162.8 139.5 162.8 198.3 C162.8 238.3 160.8 292.9 160.8 332.9 C160.8 372.9 157.0 427.6 157.0 467.6 C157.0 497.6 176.7 493.1 161.7 485.1 S152.2 482.3 132.2 464.3" stroke="#2434c8" stroke-width="0.5" opacity="0.79"/>
<path d="M224.0 158.3 C198.9 129.8 173.9 134.8 173.9 192.0 C173.9 232.0 172.5 286.4 172.5 326.4 C172.5 366.4 170.1 420.8 170.1 460.8 C170.1 490.8 173.6 490.7 158.6 482.7 S149.4 482.3 129.4 464.3" stroke="#3450d0" stroke-width="0.6" opacity="0.80"/>
<path d="M211.8 154.8 C199.4 144.1 186.9 149.1 186.9 214.7 C186.9 254.7 186.1 293.1 186.1 333.1 C186.1 373.1 182.5 411.5 182.5 451.5 C182.5 481.5 170.1 503.8 155.1 495.8 S149.0 488.8 129.0 470.8" stroke="#2c44d0" stroke-width="0.7" opacity="1.00"/>
<path d="M209.3 165.3 C200.4 129.7 191.5 134.7 191.5 186.3 C191.5 226.3 188.6 286.2 188.6 326.2 C188.6 366.2 186.2 426.0 186.2 466.0 C186.2 496.0 182.7 486.8 167.7 478.8 S145.8 486.2 125.8 468.2" stroke="#1828a8" stroke-width="0.7" opacity="0.75"/>
<path d="M219.6 157.8 C207.9 157.8 198.3 174.4 198.3 194.7 C198.3 234.7 193.3 285.3 193.3 325.3 C193.3 365.3 189.4 415.9 189.4 455.9 C189.4 485.9 189.4 510.8 174.4 502.8 S147.1 485.8 127.1 467.8" stroke="#2434b8" stroke-width="0.5" opacity="0.91"/>
<path d="M216.3 156.1 C203.8 156.1 193.6 166.5 193.6 179.2 C193.6 219.2 187.5 283.7 187.5 323.7 C187.5 363.7 187.0 428.2 187.0 468.2 C187.0 498.2 168.8 490.5 153.8 482.5 S146.7 481.3 126.7 463.3" stroke="#3a4cc8" stroke-width="0.5" opacity="0.73"/>
<path d="M216.4 171.6 C200.7 171.6 187.8 198.3 187.8 231.0 C187.8 271.0 185.0 315.5 185.0 355.5 C185.0 395.5 177.5 439.9 177.5 479.9 C177.5 509.9 192.6 508.7 177.6 500.7 S151.5 488.4 131.5 470.4" stroke="#2a3cc0" stroke-width="0.7" opacity="0.74"/>
<path d="M215.7 179.0 C196.0 179.0 179.9 196.8 179.9 218.5 C179.9 258.5 177.7 306.1 177.7 346.1 C177.7 386.1 169.7 433.6 169.7 473.6 C169.7 503.6 193.7 510.1 178.7 502.1 S148.9 479.3 128.9 461.3" stroke="#1c2aa0" stroke-width="0.5" opacity="0.98"/>
<path d="M219.4 171.2 C196.4 171.2 177.5 190.4 177.5 214.0 C177.5 254.0 174.8 295.6 174.8 335.6 C174.8 375.6 176.7 417.2 176.7 457.2 C176.7 487.2 165.9 493.5 150.9 485.5 S150.2 476.5 130.2 458.5" stroke="#2434b8" stroke-width="0.6" opacity="0.96"/>
<path d="M214.4 152.8 C186.9 152.8 164.5 175.3 164.5 202.8 C164.5 242.8 163.8 288.9 163.8 328.9 C163.8 368.9 163.2 415.1 163.2 455.1 C163.2 485.1 179.0 503.3 164.0 495.3 S150.2 477.1 130.2 459.1" stroke="#2434b8" stroke-width="0.6" opacity="0.85"/>
<path d="M214.2 172.1 C185.1 172.1 161.4 207.3 161.4 250.3 C161.4 290.3 155.7 314.5 155.7 354.5 C155.7 394.5 155.8 418.7 155.8 458.7 C155.8 488.7 189.4 512.4 174.4 504.4 S148.5 479.6 128.5 461.6" stroke="#2a3cc0" stroke-width="0.5" opacity="0.97"/>
<path d="M214.5 178.1 C182.0 178.1 155.4 200.9 155.4 228.8 C155.4 268.8 157.0 310.2 157.0 350.2 C157.0 390.2 154.7 431.7 154.7 471.7 C154.7 501.7 191.3 505.3 176.3 497.3 S150.2 491.8 130.2 473.8" stroke="#2a3cc0" stroke-width="0.6" opacity="0.97"/>
<path d="M213.6 176.1 C179.9 176.1 152.3 216.8 152.3 266.5 C152.3 306.5 151.7 326.7 151.7 366.7 C151.7 406.7 151.1 426.8 151.1 466.8 C151.1 496.8 180.9 495.6 165.9 487.6 S148.1 492.6 128.1 474.6" stroke="#2a3cc0" stroke-width="0.6" opacity="0.71"/>
<path d="M215.7 154.5 C177.1 154.5 145.4 182.2 145.4 216.1 C145.4 256.1 147.3 307.5 147.3 347.5 C147.3 387.5 144.9 438.9 144.9 478.9 C144.9 508.9 162.5 515.7 147.5 507.7 S152.2 491.5 132.2 473.5" stroke="#2434b8" stroke-width="0.7" opacity="0.75"/>
<path d="M143.2 120.2 C143.2 210.2 142.7 353.8 142.7 443.8 C142.7 473.8 165.8 514.9 150.8 506.9 S145.2 487.8 125.2 469.8" stroke="#2434c8" stroke-width="0.8" opacity="0.97"/>
<path d="M143.5 121.3 C143.5 211.3 142.6 376.5 142.6 466.5 C142.6 496.5 167.9 513.5 152.9 505.5 S150.8 481.4 130.8 463.4" stroke="#2434c8" stroke-width="0.9" opacity="0.95"/>
<path d="M146.6 125.5 C146.6 215.5 144.8 373.6 144.8 463.6 C144.8 493.6 163.7 494.2 148.7 486.2 S148.4 483.9 128.4 465.9" stroke="#404c9c" stroke-width="0.7" opacity="0.89"/>
<path d="M150.5 124.6 C150.5 214.6 148.8 358.6 148.8 448.6 C148.8 478.6 186.3 486.9 171.3 478.9 S149.2 482.3 129.2 464.3" stroke="#1828a8" stroke-width="0.9" opacity="0.99"/>
<path d="M153.2 125.0 C153.2 215.0 152.2 360.3 152.2 450.3 C152.2 480.3 179.2 491.9 164.2 483.9 S145.3 482.4 125.3 464.4" stroke="#2c44d0" stroke-width="0.8" opacity="0.89"/>
<path d="M155.7 125.5 C155.7 215.5 153.0 388.6 153.0 478.6 C153.0 508.6 189.5 512.7 174.5 504.7 S152.6 488.2 132.6 470.2" stroke="#1c2cc0" stroke-width="0.8" opacity="0.91"/>
<path d="M157.3 126.7 C157.3 216.7 157.2 377.4 157.2 467.4 C157.2 497.4 181.5 504.6 166.5 496.6 S145.7 480.7 125.7 462.7" stroke="#202c94" stroke-width="0.8" opacity="0.82"/>
<path d="M160.2 127.3 C160.2 217.3 159.1 381.1 159.1 471.1 C159.1 501.1 168.1 515.1 153.1 507.1 S150.4 483.5 130.4 465.5" stroke="#2434c8" stroke-width="0.8" opacity="0.81"/>
<path d="M162.3 128.1 C162.3 218.1 158.4 382.8 158.4 472.8 C158.4 502.8 182.1 509.8 167.1 501.8 S148.6 478.1 128.6 460.1" stroke="#2434c8" stroke-width="0.7" opacity="0.91"/>
<path d="M164.3 133.3 C164.3 223.3 161.2 371.0 161.2 461.0 C161.2 491.0 178.4 515.3 163.4 507.3 S152.3 482.6 132.3 464.6" stroke="#2c3490" stroke-width="0.8" opacity="0.89"/>
<path d="M165.8 130.7 C165.8 220.7 160.6 364.5 160.6 454.5 C160.6 484.5 179.5 490.5 164.5 482.5 S152.2 488.6 132.2 470.6" stroke="#3450d0" stroke-width="0.9" opacity="0.80"/>
<path d="M169.4 134.4 C169.4 224.4 169.3 385.5 169.3 475.5 C169.3 505.5 182.0 512.5 167.0 504.5 S145.0 477.9 125.0 459.9" stroke="#2434b0" stroke-width="0.9" opacity="0.85"/>
<path d="M171.9 132.1 C171.9 222.1 166.6 350.2 166.6 440.2 C166.6 470.2 186.0 509.1 171.0 501.1 S150.8 484.3 130.8 466.3" stroke="#1c2cc0" stroke-width="0.7" opacity="0.84"/>
<path d="M173.8 129.9 C173.8 219.9 172.2 388.3 172.2 478.3 C172.2 508.3 178.4 511.6 163.4 503.6 S152.3 480.7 132.3 462.7" stroke="#2c3490" stroke-width="0.9" opacity="0.94"/>
<path d="M177.1 132.5 C177.1 222.5 171.0 377.1 171.0 467.1 C171.0 497.1 176.6 496.7 161.6 488.7 S145.3 478.5 125.3 460.5" stroke="#404c9c" stroke-width="0.9" opacity="0.95"/>
<path d="M178.6 133.1 C178.6 223.1 174.5 377.9 174.5 467.9 C174.5 497.9 175.7 506.4 160.7 498.4 S146.3 484.8 126.3 466.8" stroke="#1828a8" stroke-width="0.9" opacity="0.83"/>
<path d="M180.4 134.2 C180.4 224.2 177.4 372.1 177.4 462.1 C177.4 492.1 196.3 512.1 181.3 504.1 S146.2 479.5 126.2 461.5" stroke="#2434b0" stroke-width="0.9" opacity="0.92"/>
<path d="M183.0 132.3 C183.0 222.3 175.9 370.3 175.9 460.3 C175.9 490.3 169.8 489.1 154.8 481.1 S149.5 479.1 129.5 461.1" stroke="#1828a8" stroke-width="0.9" opacity="0.85"/>
<path d="M186.1 132.2 C186.1 222.2 177.7 382.5 177.7 472.5 C177.7 502.5 168.5 489.5 153.5 481.5 S147.7 488.3 127.7 470.3" stroke="#1c2cc0" stroke-width="0.9" opacity="0.89"/>
<path d="M188.3 132.8 C188.3 222.8 181.9 372.0 181.9 462.0 C181.9 492.0 163.9 509.5 148.9 501.5 S150.0 487.4 130.0 469.4" stroke="#1828a8" stroke-width="0.9" opacity="0.86"/>
<path d="M192.1 131.9 C192.1 221.9 184.9 354.2 184.9 444.2 C184.9 474.2 166.5 507.3 151.5 499.3 S150.9 489.0 130.9 471.0" stroke="#2c44d0" stroke-width="0.7" opacity="0.87"/>
<path d="M193.7 136.6 C193.7 226.6 183.2 378.9 183.2 468.9 C183.2 498.9 186.9 512.6 171.9 504.6 S150.9 480.7 130.9 462.7" stroke="#404c9c" stroke-width="0.8" opacity="0.86"/>
<path d="M194.9 131.8 C194.9 221.8 185.6 358.0 185.6 448.0 C185.6 478.0 185.3 488.2 170.3 480.2 S145.5 481.8 125.5 463.8" stroke="#2c44d0" stroke-width="0.9" opacity="0.87"/>
<path d="M198.3 134.4 C198.3 224.4 196.8 381.6 196.8 471.6 C196.8 501.6 184.7 491.4 169.7 483.4 S148.6 491.6 128.6 473.6" stroke="#2434c8" stroke-width="0.8" opacity="0.92"/>
<path d="M202.0 134.0 C202.0 224.0 195.6 354.9 195.6 444.9 C195.6 474.9 170.9 499.7 155.9 491.7 S151.7 477.6 131.7 459.6" stroke="#3450d0" stroke-width="0.7" opacity="0.86"/>
<path d="M204.6 130.0 C204.6 220.0 192.2 384.0 192.2 474.0 C192.2 504.0 173.3 504.5 158.3 496.5 S145.7 477.8 125.7 459.8" stroke="#1828a8" stroke-width="0.7" opacity="0.97"/>
<path d="M206.6 134.9 C206.6 224.9 184.3 352.3 184.3 442.3 C184.3 472.3 166.4 509.2 151.4 501.2 S148.2 491.7 128.2 473.7" stroke="#202c94" stroke-width="0.8" opacity="0.87"/>
<path d="M207.4 132.1 C207.4 222.1 193.5 351.1 193.5 441.1 C193.5 471.1 168.6 489.1 153.6 481.1 S146.3 489.5 126.3 471.5" stroke="#202c94" stroke-width="0.8" opacity="0.90"/>
<path d="M211.5 130.5 C211.5 220.5 199.3 358.0 199.3 448.0 C199.3 478.0 167.2 498.5 152.2 490.5 S148.7 483.9 128.7 465.9" stroke="#3450d0" stroke-width="0.9" opacity="0.97"/>
<path d="M212.2 129.6 C212.2 219.6 200.3 348.6 200.3 438.6 C200.3 468.6 196.9 495.2 181.9 487.2 S145.2 486.6 125.2 468.6" stroke="#202c94" stroke-width="0.8" opacity="0.96"/>
<path d="M216.2 130.1 C216.2 220.1 205.1 351.0 205.1 441.0 C205.1 471.0 177.4 496.8 162.4 488.8 S151.7 479.3 131.7 461.3" stroke="#2c3490" stroke-width="0.9" opacity="0.98"/>
<path d="M218.7 130.5 C218.7 220.5 199.5 374.4 199.5 464.4 C199.5 494.4 192.9 500.7 177.9 492.7 S145.6 488.2 125.6 470.2" stroke="#2c44d0" stroke-width="0.9" opacity="0.94"/>
<path d="M220.6 127.4 C220.6 217.4 207.7 343.8 207.7 433.8 C207.7 463.8 164.1 503.2 149.1 495.2 S149.9 478.3 129.9 460.3" stroke="#1828a8" stroke-width="0.7" opacity="0.93"/>
<path d="M224.0 124.7 C224.0 214.7 202.8 354.9 202.8 444.9 C202.8 474.9 169.8 508.1 154.8 500.1 S152.0 487.2 132.0 469.2" stroke="#1828a8" stroke-width="0.9" opacity="0.90"/>
<path d="M226.4 125.3 C226.4 215.3 201.3 337.1 201.3 427.1 C201.3 457.1 174.8 511.9 159.8 503.9 S147.8 486.9 127.8 468.9" stroke="#2434c8" stroke-width="0.7" opacity="0.91"/>
<path d="M227.3 124.3 C227.3 214.3 222.2 368.7 222.2 458.7 C222.2 488.7 186.6 507.1 171.6 499.1 S145.7 486.2 125.7 468.2" stroke="#2434c8" stroke-width="0.7" opacity="0.96"/>
<path d="M229.5 125.0 C229.5 215.0 213.7 364.2 213.7 454.2 C213.7 484.2 167.1 508.4 152.1 500.4 S150.2 483.7 130.2 465.7" stroke="#3450d0" stroke-width="0.9" opacity="0.95"/>
<path d="M233.6 120.8 C233.6 210.8 230.6 350.3 230.6 440.3 C230.6 470.3 192.8 507.1 177.8 499.1 S151.6 478.5 131.6 460.5" stroke="#2434b0" stroke-width="0.8" opacity="0.84"/>
<path d="M234.7 117.3 C234.7 207.3 233.5 352.9 233.5 442.9 C233.5 472.9 172.0 491.2 157.0 483.2 S149.6 478.9 129.6 460.9" stroke="#3450d0" stroke-width="0.7" opacity="0.84"/>
<path d="M236.7 117.5 C236.7 207.5 234.2 361.2 234.2 451.2 C234.2 481.2 166.3 498.8 151.3 490.8 S148.5 479.3 128.5 461.3" stroke="#2434c8" stroke-width="0.7" opacity="0.81"/>
<path d="M141.5 118.0 L141.5 465.0 C141.5 495.0 174.7 497.9 159.7 489.9 S149.0 485.0 129.0 467.0" stroke="#2434b0" stroke-width="0.8" opacity="0.9"/>
<path d="M143.0 118.0 L143.0 465.0 C143.0 495.0 188.9 492.6 173.9 484.6 S149.0 485.0 129.0 467.0" stroke="#2434c8" stroke-width="0.8" opacity="0.9"/>
<path d="M145.0 118.0 L145.0 465.0 C145.0 495.0 191.5 487.6 176.5 479.6 S149.0 485.0 129.0 467.0" stroke="#2c3490" stroke-width="0.8" opacity="0.9"/>
<path d="M236.0 125.0 L236.0 430.0 C236.0 460.0 162.0 515.6 147.0 507.6 S149.0 485.0 129.0 467.0" stroke="#1828a8" stroke-width="0.8" opacity="0.9"/>
<path d="M237.5 125.0 L237.5 430.0 C237.5 460.0 191.2 514.1 176.2 506.1 S149.0 485.0 129.0 467.0" stroke="#3450d0" stroke-width="0.8" opacity="0.9"/>
<path d="M224.2 172.2 C223.9 150 223.4 130 223.6 121.2" stroke="#4a80f0" stroke-width="0.8" opacity="0.9"/>
<path d="M233.3 193.8 C235.7 150 232.4 130 223.7 120.8" stroke="#2a58d8" stroke-width="0.8" opacity="0.9"/>
<path d="M237.1 170.9 C237.1 150 234.2 130 227.8 114.6" stroke="#4a80f0" stroke-width="0.8" opacity="0.9"/>
<path d="M231.7 172.4 C232.6 150 234.7 130 219.4 118.7" stroke="#3a70e8" stroke-width="0.8" opacity="0.9"/>
<path d="M236.9 190.8 C236.7 150 236.7 130 229.4 116.2" stroke="#4a80f0" stroke-width="0.8" opacity="0.9"/>
<path d="M222.5 188.0 C222.4 150 220.9 130 212.7 116.0" stroke="#2a58d8" stroke-width="0.8" opacity="0.9"/>
<path d="M232.6 184.6 C234.9 150 231.8 130 230.6 117.3" stroke="#2a58d8" stroke-width="0.8" opacity="0.9"/>
<path d="M224.7 197.2 C225.7 150 224.4 130 212.2 113.9" stroke="#2a58d8" stroke-width="0.8" opacity="0.9"/>
<path d="M226.0 189.0 C227.8 150 227.5 130 223.2 112.6" stroke="#2a58d8" stroke-width="0.8" opacity="0.9"/>
<path d="M231.3 179.5 C229.1 150 231.3 130 219.6 120.2" stroke="#3a70e8" stroke-width="0.8" opacity="0.9"/>
<path d="M223.0 199.4 C225.0 150 220.7 130 216.4 121.1" stroke="#2a58d8" stroke-width="0.8" opacity="0.9"/>
<path d="M228.1 185.6 C229.2 150 229.4 130 216.3 117.5" stroke="#4a80f0" stroke-width="0.8" opacity="0.9"/>
<path d="M223.2 170.9 C225.4 150 220.4 130 213.3 116.8" stroke="#4a80f0" stroke-width="0.8" opacity="0.9"/>
<path d="M232.4 186.9 C233.2 150 231.8 130 229.7 119.2" stroke="#4a80f0" stroke-width="0.8" opacity="0.9"/>
<path d="M225.8 174.2 C223.1 150 226.6 130 219.5 117.6" stroke="#4a80f0" stroke-width="0.8" opacity="0.9"/>
<path d="M232.2 181.1 C229.7 150 230.4 130 220.7 113.1" stroke="#2a58d8" stroke-width="0.8" opacity="0.9"/>
<path d="M222.2 184.2 C223.5 150 220.2 130 218.4 114.1" stroke="#2a58d8" stroke-width="0.8" opacity="0.9"/>
<path d="M237.1 185.0 C240.1 150 235.1 130 225.3 118.4" stroke="#2a58d8" stroke-width="0.8" opacity="0.9"/>
<path d="M141.6 294.6 C141.6 170 146.6 140 173.3 125.0" stroke="#2c44d0" stroke-width="0.7" opacity="0.8"/>
<path d="M142.4 291.0 C142.4 170 147.4 140 152.6 128.4" stroke="#2c3490" stroke-width="0.7" opacity="0.8"/>
<path d="M146.6 295.5 C146.6 170 151.6 140 170.5 129.2" stroke="#404c9c" stroke-width="0.7" opacity="0.8"/>
<path d="M141.7 289.3 C141.7 170 146.7 140 175.6 131.4" stroke="#2c44d0" stroke-width="0.7" opacity="0.8"/>
<path d="M142.5 292.0 C142.5 170 147.5 140 181.9 131.8" stroke="#2434c8" stroke-width="0.7" opacity="0.8"/>
<path d="M147.8 294.6 C147.8 170 152.8 140 165.7 129.7" stroke="#404c9c" stroke-width="0.7" opacity="0.8"/>
<path d="M143.4 226.6 C143.4 170 148.4 140 166.7 128.4" stroke="#1c2cc0" stroke-width="0.7" opacity="0.8"/>
<path d="M144.4 222.3 C144.4 170 149.4 140 178.7 124.5" stroke="#2434b0" stroke-width="0.7" opacity="0.8"/>
<path d="M142.2 246.8 C142.2 170 147.2 140 175.8 125.1" stroke="#1c2cc0" stroke-width="0.7" opacity="0.8"/>
<path d="M148.0 292.0 C148.0 170 153.0 140 173.5 129.4" stroke="#1828a8" stroke-width="0.7" opacity="0.8"/>
<path d="M216.8 210.7 C186.8 195.4 160 194.7 144.2 231.0" stroke="#2c3c9c" stroke-width="0.7" opacity="0.85"/>
<path d="M224.6 177.4 C194.6 165.2 160 165.9 146.1 234.0" stroke="#3040b8" stroke-width="0.7" opacity="0.85"/>
<path d="M209.1 163.0 C179.1 151.5 160 150.8 143.5 180.5" stroke="#3040b8" stroke-width="0.7" opacity="0.85"/>
<path d="M206.6 188.9 C176.6 168.1 160 171.1 145.8 222.5" stroke="#2a3aa8" stroke-width="0.7" opacity="0.85"/>
<path d="M209.7 155.0 C179.7 135.6 160 133.7 145.8 181.3" stroke="#2c3c9c" stroke-width="0.7" opacity="0.85"/>
<path d="M208.8 172.3 C178.8 156.0 160 158.6 143.9 201.6" stroke="#3040b8" stroke-width="0.7" opacity="0.85"/>
<path d="M206.6 166.2 C176.6 153.8 160 154.5 141.2 190.0" stroke="#3040b8" stroke-width="0.7" opacity="0.85"/>
<path d="M213.1 185.0 C183.1 172.2 160 178.8 145.4 205.8" stroke="#2a3aa8" stroke-width="0.7" opacity="0.85"/>
<path d="M221.4 194.8 C191.4 181.4 160 176.6 146.0 232.4" stroke="#3a58d0" stroke-width="0.7" opacity="0.85"/>
<path d="M217.7 194.4 C187.7 188.6 160 186.8 144.5 218.0" stroke="#3040b8" stroke-width="0.7" opacity="0.85"/>
<path d="M212.9 198.4 C182.9 182.6 160 191.9 147.0 258.1" stroke="#3a58d0" stroke-width="0.7" opacity="0.85"/>
<path d="M208.9 194.1 C178.9 188.1 160 189.3 146.6 239.9" stroke="#3040b8" stroke-width="0.7" opacity="0.85"/>
<path d="M219.8 160.0 C189.8 146.9 160 143.5 143.1 209.1" stroke="#3040b8" stroke-width="0.7" opacity="0.85"/>
<path d="M217.1 153.9 C187.1 136.5 160 137.0 142.1 166.0" stroke="#3a58d0" stroke-width="0.7" opacity="0.85"/>
<path d="M222.8 145.8 C192.8 125.7 160 132.7 142.1 162.3" stroke="#2a3aa8" stroke-width="0.7" opacity="0.85"/>
<path d="M227.8 203.5 C197.8 188.5 160 189.1 146.7 232.7" stroke="#3040b8" stroke-width="0.7" opacity="0.85"/>
<path d="M216.3 164.0 C186.3 151.1 160 151.4 141.1 211.3" stroke="#2a3aa8" stroke-width="0.7" opacity="0.85"/>
<path d="M216.0 157.9 C186.0 141.9 160 145.2 142.0 192.4" stroke="#3040b8" stroke-width="0.7" opacity="0.85"/>
<path d="M225.5 153.2 L256.3 163.0" stroke="#4a80f0" stroke-width="0.6" opacity="0.85"/>
<path d="M224.6 154.8 L255.4 164.7" stroke="#2a50d0" stroke-width="0.6" opacity="0.85"/>
<path d="M223.8 156.4 L254.5 166.5" stroke="#2a50d0" stroke-width="0.6" opacity="0.85"/>
<path d="M222.9 158.0 L253.5 168.3" stroke="#2a50d0" stroke-width="0.6" opacity="0.85"/>
<path d="M222.1 159.6 L252.6 170.0" stroke="#2a50d0" stroke-width="0.6" opacity="0.85"/>
<path d="M221.2 161.2 L251.7 171.8" stroke="#2a3cb0" stroke-width="0.6" opacity="0.85"/>
<path d="M220.3 162.8 L250.7 173.6" stroke="#2a50d0" stroke-width="0.6" opacity="0.85"/>
<path d="M219.5 164.4 L249.8 175.3" stroke="#5a90f0" stroke-width="0.6" opacity="0.85"/>
<path d="M218.6 166.0 L248.8 177.1" stroke="#5a90f0" stroke-width="0.6" opacity="0.85"/>
<path d="M217.8 167.6 L247.9 178.9" stroke="#2a50d0" stroke-width="0.6" opacity="0.85"/>
<path d="M216.9 169.2 L247.0 180.6" stroke="#3a70e0" stroke-width="0.6" opacity="0.85"/>
<path d="M216.1 170.8 L246.0 182.4" stroke="#2a3cb0" stroke-width="0.6" opacity="0.85"/>
<path d="M215.2 172.4 L245.1 184.1" stroke="#5a90f0" stroke-width="0.6" opacity="0.85"/>
<path d="M214.4 174.0 L244.2 185.9" stroke="#2a3cb0" stroke-width="0.6" opacity="0.85"/>
<path d="M213.5 175.6 L243.2 187.7" stroke="#5a90f0" stroke-width="0.6" opacity="0.85"/>
<path d="M212.7 177.2 L242.3 189.4" stroke="#5a90f0" stroke-width="0.6" opacity="0.85"/>
<path d="M211.8 178.8 L241.3 191.2" stroke="#3a70e0" stroke-width="0.6" opacity="0.85"/>
<path d="M210.9 180.4 L240.4 193.0" stroke="#2a50d0" stroke-width="0.6" opacity="0.85"/>
<path d="M210.1 182.0 L239.5 194.7" stroke="#5a90f0" stroke-width="0.6" opacity="0.85"/>
<path d="M209.2 183.6 L238.5 196.5" stroke="#2a3cb0" stroke-width="0.6" opacity="0.85"/>
<path d="M208.4 185.2 L237.6 198.3" stroke="#4a80f0" stroke-width="0.6" opacity="0.85"/>
<path d="M207.5 186.8 L236.7 200.0" stroke="#3a70e0" stroke-width="0.6" opacity="0.85"/>
<path d="M226 150 L257 160 L259 168 L228 158 Z" fill="#3a8ae8" opacity="0.6"/>
<path d="M122.1 454.0 L174.5 485.6" stroke="#202c94" stroke-width="0.7" opacity="0.8"/>
<path d="M124.3 457.0 L164.7 486.0" stroke="#3450d0" stroke-width="0.7" opacity="0.8"/>
<path d="M125.2 460.0 L165.6 492.9" stroke="#1828a8" stroke-width="0.7" opacity="0.8"/>
<path d="M125.3 463.0 L167.7 495.8" stroke="#404c9c" stroke-width="0.7" opacity="0.8"/>
<path d="M124.8 466.0 L172.7 497.2" stroke="#202c94" stroke-width="0.7" opacity="0.8"/>
<path d="M122.8 469.0 L164.6 500.6" stroke="#2434b0" stroke-width="0.7" opacity="0.8"/>
<path d="M123.9 472.0 L162.1 498.3" stroke="#1c2cc0" stroke-width="0.7" opacity="0.8"/>
<path d="M122.9 475.0 L175.2 505.0" stroke="#3450d0" stroke-width="0.7" opacity="0.8"/>
<path d="M122.9 478.0 L167.7 502.2" stroke="#2434c8" stroke-width="0.7" opacity="0.8"/>
<path d="M123.6 481.0 L176.0 510.7" stroke="#2434c8" stroke-width="0.7" opacity="0.8"/>
<path d="M228 330 C232 380 236 430 240 482 C230 484 215 484 205 483" stroke="#5a5a90" stroke-width="0.7"/>
<path d="M224 300 C226 360 225 420 222 480" stroke="#5a5a90" stroke-width="0.6"/>
<path d="M140 500 C175 505 215 515 235 525 C245 532 236 538 226 530 C215 515 215 480 218 440" stroke="#5a5a90" stroke-width="0.7"/>
<path d="M150 478 C180 470 210 445 236 415" stroke="#2a38b0" stroke-width="1.4" opacity="0.8"/>
</g>
<g fill="none" stroke="#2e2e2e" stroke-width="0.9">
<ellipse cx="188.4" cy="58" rx="24.4" ry="12.4"/><ellipse cx="188.6" cy="59.5" rx="19.5" ry="9.5"/>
<ellipse cx="188.8" cy="83.5" rx="24" ry="12.5"/>
<ellipse cx="188.8" cy="106" rx="52.4" ry="27"/><ellipse cx="188.8" cy="106" rx="49.5" ry="25"/>
<ellipse cx="246.5" cy="181.5" rx="11.5" ry="22" transform="rotate(28 246.5 181.5)"/><ellipse cx="246" cy="181.5" rx="9.3" ry="19.3" transform="rotate(28 246 181.5)"/>
<ellipse cx="216.5" cy="170" rx="12" ry="19.5" transform="rotate(28 216.5 170)"/>
<path d="M224 152 L256 163 M208 188 L238 200" />
<ellipse cx="133.5" cy="475" rx="10" ry="21.5" transform="rotate(30 133.5 475)" stroke-width="0.7"/><ellipse cx="135" cy="475" rx="8" ry="19" transform="rotate(30 135 475)" stroke-width="0.7"/>
<ellipse cx="192" cy="551.5" rx="52.3" ry="28"/><ellipse cx="192" cy="551.5" rx="49.5" ry="26"/>
</g>
<ellipse cx="178.0" cy="532.0" rx="5.0" ry="3.4" fill="#ebe39a" stroke="#2e2e1e" stroke-width="1.1"/>
<ellipse cx="178.0" cy="532.5" rx="2.8" ry="1.7" fill="#f8f4d4"/>
<ellipse cx="192.0" cy="532.0" rx="5.0" ry="3.4" fill="#ebe39a" stroke="#2e2e1e" stroke-width="1.1"/>
<ellipse cx="192.0" cy="532.5" rx="2.8" ry="1.7" fill="#f8f4d4"/>
<ellipse cx="206.0" cy="532.0" rx="5.0" ry="3.4" fill="#ebe39a" stroke="#2e2e1e" stroke-width="1.1"/>
<ellipse cx="206.0" cy="532.5" rx="2.8" ry="1.7" fill="#f8f4d4"/>
<ellipse cx="157.0" cy="538.8" rx="5.0" ry="3.4" fill="#ebe39a" stroke="#2e2e1e" stroke-width="1.1"/>
<ellipse cx="157.0" cy="539.3" rx="2.8" ry="1.7" fill="#f8f4d4"/>
<ellipse cx="171.0" cy="538.8" rx="5.0" ry="3.4" fill="#ebe39a" stroke="#2e2e1e" stroke-width="1.1"/>
<ellipse cx="171.0" cy="539.3" rx="2.8" ry="1.7" fill="#f8f4d4"/>
<ellipse cx="185.0" cy="538.8" rx="5.0" ry="3.4" fill="#ebe39a" stroke="#2e2e1e" stroke-width="1.1"/>
<ellipse cx="185.0" cy="539.3" rx="2.8" ry="1.7" fill="#f8f4d4"/>
<ellipse cx="199.0" cy="538.8" rx="5.0" ry="3.4" fill="#ebe39a" stroke="#2e2e1e" stroke-width="1.1"/>
<ellipse cx="199.0" cy="539.3" rx="2.8" ry="1.7" fill="#f8f4d4"/>
<ellipse cx="213.0" cy="538.8" rx="5.0" ry="3.4" fill="#ebe39a" stroke="#2e2e1e" stroke-width="1.1"/>
<ellipse cx="213.0" cy="539.3" rx="2.8" ry="1.7" fill="#f8f4d4"/>
<ellipse cx="227.0" cy="538.8" rx="5.0" ry="3.4" fill="#ebe39a" stroke="#2e2e1e" stroke-width="1.1"/>
<ellipse cx="227.0" cy="539.3" rx="2.8" ry="1.7" fill="#f8f4d4"/>
<ellipse cx="150.0" cy="545.6" rx="5.0" ry="3.4" fill="#ebe39a" stroke="#2e2e1e" stroke-width="1.1"/>
<ellipse cx="150.0" cy="546.1" rx="2.8" ry="1.7" fill="#f8f4d4"/>
<ellipse cx="164.0" cy="545.6" rx="5.0" ry="3.4" fill="#ebe39a" stroke="#2e2e1e" stroke-width="1.1"/>
<ellipse cx="164.0" cy="546.1" rx="2.8" ry="1.7" fill="#f8f4d4"/>
<ellipse cx="178.0" cy="545.6" rx="5.0" ry="3.4" fill="#ebe39a" stroke="#2e2e1e" stroke-width="1.1"/>
<ellipse cx="178.0" cy="546.1" rx="2.8" ry="1.7" fill="#f8f4d4"/>
<ellipse cx="192.0" cy="545.6" rx="5.0" ry="3.4" fill="#ebe39a" stroke="#2e2e1e" stroke-width="1.1"/>
<ellipse cx="192.0" cy="546.1" rx="2.8" ry="1.7" fill="#f8f4d4"/>
<ellipse cx="206.0" cy="545.6" rx="5.0" ry="3.4" fill="#ebe39a" stroke="#2e2e1e" stroke-width="1.1"/>
<ellipse cx="206.0" cy="546.1" rx="2.8" ry="1.7" fill="#f8f4d4"/>
<ellipse cx="220.0" cy="545.6" rx="5.0" ry="3.4" fill="#ebe39a" stroke="#2e2e1e" stroke-width="1.1"/>
<ellipse cx="220.0" cy="546.1" rx="2.8" ry="1.7" fill="#f8f4d4"/>
<ellipse cx="234.0" cy="545.6" rx="5.0" ry="3.4" fill="#ebe39a" stroke="#2e2e1e" stroke-width="1.1"/>
<ellipse cx="234.0" cy="546.1" rx="2.8" ry="1.7" fill="#f8f4d4"/>
<ellipse cx="157.0" cy="552.4" rx="5.0" ry="3.4" fill="#ebe39a" stroke="#2e2e1e" stroke-width="1.1"/>
<ellipse cx="157.0" cy="552.9" rx="2.8" ry="1.7" fill="#f8f4d4"/>
<ellipse cx="171.0" cy="552.4" rx="5.0" ry="3.4" fill="#ebe39a" stroke="#2e2e1e" stroke-width="1.1"/>
<ellipse cx="171.0" cy="552.9" rx="2.8" ry="1.7" fill="#f8f4d4"/>
<ellipse cx="185.0" cy="552.4" rx="5.0" ry="3.4" fill="#ebe39a" stroke="#2e2e1e" stroke-width="1.1"/>
<ellipse cx="185.0" cy="552.9" rx="2.8" ry="1.7" fill="#f8f4d4"/>
<ellipse cx="199.0" cy="552.4" rx="5.0" ry="3.4" fill="#ebe39a" stroke="#2e2e1e" stroke-width="1.1"/>
<ellipse cx="199.0" cy="552.9" rx="2.8" ry="1.7" fill="#f8f4d4"/>
<ellipse cx="213.0" cy="552.4" rx="5.0" ry="3.4" fill="#ebe39a" stroke="#2e2e1e" stroke-width="1.1"/>
<ellipse cx="213.0" cy="552.9" rx="2.8" ry="1.7" fill="#f8f4d4"/>
<ellipse cx="227.0" cy="552.4" rx="5.0" ry="3.4" fill="#ebe39a" stroke="#2e2e1e" stroke-width="1.1"/>
<ellipse cx="227.0" cy="552.9" rx="2.8" ry="1.7" fill="#f8f4d4"/>
<ellipse cx="150.0" cy="559.2" rx="5.0" ry="3.4" fill="#ebe39a" stroke="#2e2e1e" stroke-width="1.1"/>
<ellipse cx="150.0" cy="559.7" rx="2.8" ry="1.7" fill="#f8f4d4"/>
<ellipse cx="164.0" cy="559.2" rx="5.0" ry="3.4" fill="#ebe39a" stroke="#2e2e1e" stroke-width="1.1"/>
<ellipse cx="164.0" cy="559.7" rx="2.8" ry="1.7" fill="#f8f4d4"/>
<ellipse cx="178.0" cy="559.2" rx="5.0" ry="3.4" fill="#ebe39a" stroke="#2e2e1e" stroke-width="1.1"/>
<ellipse cx="178.0" cy="559.7" rx="2.8" ry="1.7" fill="#f8f4d4"/>
<ellipse cx="192.0" cy="559.2" rx="5.0" ry="3.4" fill="#ebe39a" stroke="#2e2e1e" stroke-width="1.1"/>
<ellipse cx="192.0" cy="559.7" rx="2.8" ry="1.7" fill="#f8f4d4"/>
<ellipse cx="206.0" cy="559.2" rx="5.0" ry="3.4" fill="#ebe39a" stroke="#2e2e1e" stroke-width="1.1"/>
<ellipse cx="206.0" cy="559.7" rx="2.8" ry="1.7" fill="#f8f4d4"/>
<ellipse cx="220.0" cy="559.2" rx="5.0" ry="3.4" fill="#ebe39a" stroke="#2e2e1e" stroke-width="1.1"/>
<ellipse cx="220.0" cy="559.7" rx="2.8" ry="1.7" fill="#f8f4d4"/>
<ellipse cx="234.0" cy="559.2" rx="5.0" ry="3.4" fill="#ebe39a" stroke="#2e2e1e" stroke-width="1.1"/>
<ellipse cx="234.0" cy="559.7" rx="2.8" ry="1.7" fill="#f8f4d4"/>
<ellipse cx="157.0" cy="566.0" rx="5.0" ry="3.4" fill="#ebe39a" stroke="#2e2e1e" stroke-width="1.1"/>
<ellipse cx="157.0" cy="566.5" rx="2.8" ry="1.7" fill="#f8f4d4"/>
<ellipse cx="171.0" cy="566.0" rx="5.0" ry="3.4" fill="#ebe39a" stroke="#2e2e1e" stroke-width="1.1"/>
<ellipse cx="171.0" cy="566.5" rx="2.8" ry="1.7" fill="#f8f4d4"/>
<ellipse cx="185.0" cy="566.0" rx="5.0" ry="3.4" fill="#ebe39a" stroke="#2e2e1e" stroke-width="1.1"/>
<ellipse cx="185.0" cy="566.5" rx="2.8" ry="1.7" fill="#f8f4d4"/>
<ellipse cx="199.0" cy="566.0" rx="5.0" ry="3.4" fill="#ebe39a" stroke="#2e2e1e" stroke-width="1.1"/>
<ellipse cx="199.0" cy="566.5" rx="2.8" ry="1.7" fill="#f8f4d4"/>
<ellipse cx="213.0" cy="566.0" rx="5.0" ry="3.4" fill="#ebe39a" stroke="#2e2e1e" stroke-width="1.1"/>
<ellipse cx="213.0" cy="566.5" rx="2.8" ry="1.7" fill="#f8f4d4"/>
<ellipse cx="227.0" cy="566.0" rx="5.0" ry="3.4" fill="#ebe39a" stroke="#2e2e1e" stroke-width="1.1"/>
<ellipse cx="227.0" cy="566.5" rx="2.8" ry="1.7" fill="#f8f4d4"/>
<ellipse cx="178.0" cy="572.8" rx="5.0" ry="3.4" fill="#ebe39a" stroke="#2e2e1e" stroke-width="1.1"/>
<ellipse cx="178.0" cy="573.3" rx="2.8" ry="1.7" fill="#f8f4d4"/>
<ellipse cx="192.0" cy="572.8" rx="5.0" ry="3.4" fill="#ebe39a" stroke="#2e2e1e" stroke-width="1.1"/>
<ellipse cx="192.0" cy="573.3" rx="2.8" ry="1.7" fill="#f8f4d4"/>
<ellipse cx="206.0" cy="572.8" rx="5.0" ry="3.4" fill="#ebe39a" stroke="#2e2e1e" stroke-width="1.1"/>
<ellipse cx="206.0" cy="573.3" rx="2.8" ry="1.7" fill="#f8f4d4"/>
<g fill="none" stroke="#2e2e2e" stroke-width="0.9">
<ellipse cx="191.8" cy="574" rx="23.5" ry="11.5" fill="#f2eca8" fill-opacity="0.6"/>
<ellipse cx="181" cy="572" rx="5" ry="3.2" fill="#faf6dc"/>
<ellipse cx="194.8" cy="573" rx="5" ry="3.2" fill="#faf6dc"/>
<ellipse cx="207.4" cy="572" rx="5" ry="3.2" fill="#faf6dc"/>
<ellipse cx="188" cy="566" rx="5" ry="3.2" fill="#faf6dc"/>
<ellipse cx="201" cy="566" rx="5" ry="3.2" fill="#faf6dc"/>
<path d="M168.3 575 v10 A23.5 11.5 0 0 0 215.3 585 v-10"/>
<ellipse cx="191.5" cy="602" rx="24.5" ry="13"/><ellipse cx="191.5" cy="602" rx="21.5" ry="11"/>
</g>
<g transform="translate(79,546) rotate(28.5)">
<rect x="0" y="-3.5" width="80" height="7.5" fill="url(#leg)"/>
<rect x="-4" y="-3.5" width="4" height="7.5" fill="#707070"/>
<line x1="-4" y1="7.5" x2="80" y2="7.5" stroke="#3a3a3a" stroke-width="1.7" stroke-dasharray="1.6 0.7" opacity="0.85"/>
<line x1="-4" y1="10.7" x2="77" y2="10.7" stroke="#3a3a3a" stroke-width="1.7" stroke-dasharray="1.6 0.7" opacity="0.85"/>
<line x1="-4" y1="13.9" x2="74" y2="13.9" stroke="#3a3a3a" stroke-width="1.7" stroke-dasharray="1.6 0.7" opacity="0.85"/>
</g>
<g transform="translate(62,555) rotate(-61.5)" fill="#333" font-size="5"><text x="0" y="0" textLength="20" lengthAdjust="spacingAndGlyphs">Streamline</text><text x="-16" y="7.5" textLength="22" lengthAdjust="spacingAndGlyphs">U (m/s)</text></g>
</svg></body></html>
